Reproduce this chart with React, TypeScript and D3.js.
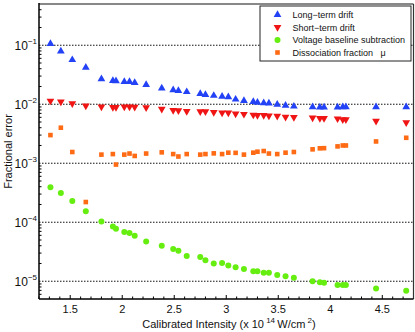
import React from "react";
import * as d3 from "d3";

// intensity in units of 1e14 W/cm^2
const intensity = [
  1.31, 1.41, 1.52, 1.65, 1.8, 1.91, 1.94, 2.02, 2.07, 2.12, 2.23, 2.38, 2.49,
  2.54, 2.62, 2.75, 2.8, 2.88, 2.96, 3.02, 3.09, 3.17, 3.26, 3.3, 3.36, 3.41,
  3.49, 3.57, 3.65, 3.83, 3.9, 3.94, 4.07, 4.12, 4.15, 4.44, 4.73,
];

const longTerm = [
  0.106, 0.079, 0.0565, 0.042, 0.0267, 0.025, 0.0247, 0.024, 0.024, 0.0232,
  0.0214, 0.0186, 0.0175, 0.017, 0.0162, 0.0151, 0.0145, 0.014, 0.0135, 0.0133,
  0.0121, 0.0115, 0.011, 0.0107, 0.0105, 0.0104, 0.0099, 0.0095, 0.0092, 0.009,
  0.0089, 0.0089, 0.0089, 0.009, 0.009, 0.009, 0.009,
];

const shortTerm = [
  0.0114, 0.011, 0.0103, 0.0094, 0.0091, 0.0089, 0.0089, 0.0091, 0.0091, 0.009,
  0.0088, 0.0083, 0.0079, 0.0078, 0.0076, 0.0075, 0.0075, 0.0073, 0.0072,
  0.0072, 0.0069, 0.0068, 0.0066, 0.0065, 0.0065, 0.0064, 0.0063, 0.0061,
  0.006, 0.0059, 0.0058, 0.0058, 0.0057, 0.0055, 0.0055, 0.0052, 0.0049,
];

const voltage = [
  3.9e-4, 3.13e-4, 2.29e-4, 1.54e-4, 1.03e-4, 8.5e-5, 7.75e-5, 6.8e-5, 6.6e-5,
  5.9e-5, 4.73e-5, 4.0e-5, 3.52e-5, 3.3e-5, 2.68e-5, 2.58e-5, 2.26e-5, 2.0e-5,
  2.03e-5, 1.84e-5, 1.72e-5, 1.62e-5, 1.48e-5, 1.48e-5, 1.39e-5, 1.39e-5,
  1.28e-5, 1.21e-5, 1.15e-5, 1.0e-5, 9.6e-6, 9.4e-6, 8.6e-6, 8.6e-6, 8.6e-6,
  7.5e-6, 6.9e-6,
];

const dissociation = [
  0.003, 0.004, 0.00155, 2.2e-4, 0.0014, 0.00143, 0.00095, 0.0014, 0.00146,
  0.00133, 0.00146, 0.00153, 0.00143, 0.0013, 0.00143, 0.0014, 0.00143,
  0.00147, 0.00143, 0.00151, 0.0015, 0.0014, 0.00151, 0.00157, 0.00161,
  0.00146, 0.00143, 0.00151, 0.00155, 0.00172, 0.00179, 0.0018, 0.00193, 0.002,
  0.002, 0.00234, 0.0027,
];

const xTicks = [1.5, 2, 2.5, 3, 3.5, 4, 4.5];
const yExponents = [-1, -2, -3, -4, -5];
const legendLabels = [
  "Long\u2212term drift",
  "Short\u2212term drift",
  "Voltage baseline subtraction",
  "Dissociation fraction   \u03bc",
];

const W = 415,
  H = 332;
const left = 39,
  right = 413.5,
  top = 4,
  bottom = 299;
const font = "'Liberation Sans', Arial, sans-serif";

const blue = "#2342f5",
  red = "#f01515",
  green = "#66ee11",
  orange = "#ff6a14";

const x = d3.scaleLinear().domain([1.2, 4.8]).range([left, right]);
const y = d3.scaleLog().domain([5e-6, 0.5]).range([bottom, top]);

const triUp = d3.symbol(d3.symbolTriangle, 26)()!;

const Marker = ({ kind, cx, cy }: { kind: string; cx: number; cy: number }) => {
  if (kind === "up")
    return <path d={triUp} transform={`translate(${cx},${cy})`} fill={blue} />;
  if (kind === "down")
    return (
      <path d={triUp} transform={`translate(${cx},${cy}) rotate(180)`} fill={red} />
    );
  if (kind === "circle") return <circle cx={cx} cy={cy} r={3} fill={green} />;
  return <rect x={cx - 2.3} y={cy - 2.3} width={4.6} height={4.6} fill={orange} />;
};

const series = [
  { kind: "up", values: longTerm },
  { kind: "down", values: shortTerm },
  { kind: "circle", values: voltage },
  { kind: "square", values: dissociation },
];

export default function App() {
  const minorX = d3
    .range(1.2, 4.8001, 0.1)
    .filter((v) => Math.abs(v * 2 - Math.round(v * 2)) > 1e-6);
  const yMinor: number[] = [];
  for (let e = -6; e <= 0; e++)
    for (let k = 2; k <= 9; k++) {
      const v = k * Math.pow(10, e);
      if (v >= 5e-6 && v <= 0.5) yMinor.push(v);
    }

  return (
    <svg
      width={W}
      height={H}
      style={{ position: "absolute", left: 0, top: 0, background: "#fff" }}
      fontFamily={font}
    >
      {/* grid */}
      {yExponents.map((e) => (
        <line
          key={e}
          x1={left}
          x2={right}
          y1={y(Math.pow(10, e))}
          y2={y(Math.pow(10, e))}
          stroke="#111"
          strokeDasharray="1.5,1.5"
        />
      ))}

      {/* ticks */}
      {yMinor.map((v, i) => (
        <line key={i} x1={left} x2={left + 2.5} y1={y(v)} y2={y(v)} stroke="#000" />
      ))}
      {minorX.map((v, i) => (
        <line key={i} x1={x(v)} x2={x(v)} y1={bottom} y2={bottom - 2.5} stroke="#000" />
      ))}
      {xTicks.map((v) => (
        <g key={v}>
          <line x1={x(v)} x2={x(v)} y1={bottom} y2={bottom - 4} stroke="#000" />
          <text x={x(v)} y={313} textAnchor="middle" fontSize={11} fill="#111">
            {String(v)}
          </text>
        </g>
      ))}
      {yExponents.map((e) => (
        <text key={e} x={37} y={y(Math.pow(10, e)) + 5} textAnchor="end" fill="#111">
          <tspan fontSize={12}>10</tspan>
          <tspan fontSize={8} dy={-6}>
            {"\u2212" + String(-e)}
          </tspan>
        </text>
      ))}

      {/* frame */}
      <line x1={left} x2={right} y1={top} y2={top} stroke="#888" strokeWidth={2} />
      <line x1={right} x2={right} y1={top} y2={bottom} stroke="#333" strokeWidth={1.2} />
      <line x1={left} x2={left} y1={top - 1} y2={bottom} stroke="#000" strokeWidth={1.5} />
      <line x1={left} x2={right} y1={bottom} y2={bottom} stroke="#000" strokeWidth={1.5} />

      {/* data */}
      {series.map((s) => (
        <g key={s.kind}>
          {s.values.map((v, i) => (
            <Marker key={i} kind={s.kind} cx={x(intensity[i])} cy={y(v)} />
          ))}
        </g>
      ))}

      {/* axis labels */}
      <text x={229} y={328} textAnchor="middle" fontSize={11} fill="#111" style={{ whiteSpace: "pre" }}>
        Calibrated Intensity (x 10
        <tspan fontSize={8} dy={-5}>
          {" 14 "}
        </tspan>
        <tspan dy={5}>W/cm</tspan>
        <tspan fontSize={8} dy={-5}>
          {" 2"}
        </tspan>
        <tspan dy={5}>)</tspan>
      </text>
      <text
        transform={`translate(12,${(top + bottom) / 2}) rotate(-90)`}
        textAnchor="middle"
        fontSize={11}
        fill="#111"
      >
        Fractional error
      </text>

      {/* legend */}
      <rect x={260} y={6} width={151} height={55} fill="#fff" stroke="#222" strokeWidth={1} />
      {series.map((s, i) => {
        const cy = 14.7 + i * 12.6;
        return (
          <g key={s.kind}>
            <Marker kind={s.kind} cx={277.5} cy={cy} />
            <text
              x={292.5}
              y={cy + 3.3}
              fontSize={9}
              fill="#111"
              style={{ whiteSpace: "pre" }}
            >
              {legendLabels[i]}
            </text>
          </g>
        );
      })}
    </svg>
  );
}
